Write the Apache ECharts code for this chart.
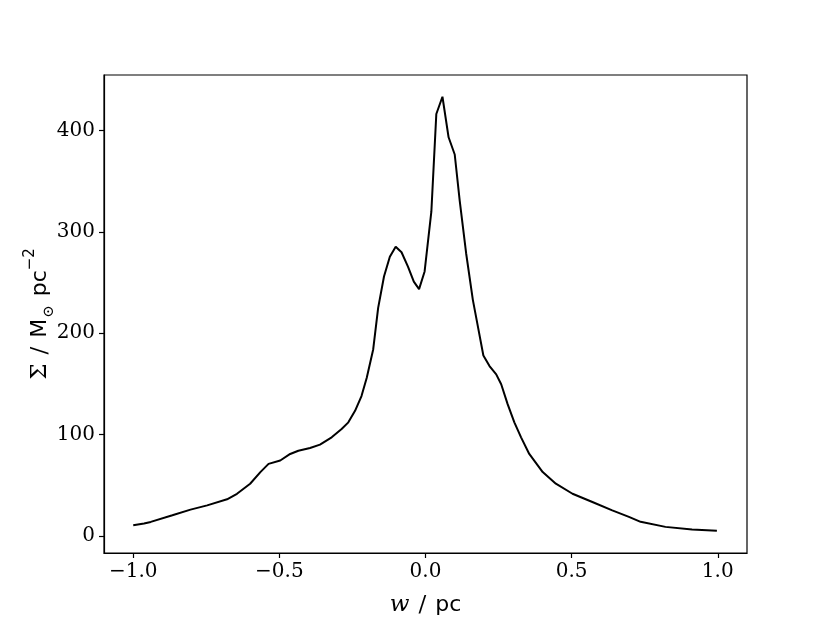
<!DOCTYPE html>
<html>
<head>
<meta charset="utf-8">
<script src="https://cdn.jsdelivr.net/npm/echarts@6/dist/echarts.min.js"></script>
<style>
  html, body { margin: 0; padding: 0; background: #fff; }
  #chart { width: 830px; height: 623px; }
</style>
</head>
<body>
<div id="chart"></div>
<script>
// surface density profile
var wValues = [
  -1.0, -0.963, -0.94, -0.866, -0.804, -0.747, -0.679, -0.645, -0.6, -0.565,
  -0.537, -0.497, -0.463, -0.435, -0.395, -0.361, -0.321, -0.287, -0.264, -0.241,
  -0.219, -0.201, -0.179, -0.162, -0.142, -0.122, -0.102, -0.082, -0.06, -0.04,
  -0.022, -0.003, 0.02, 0.037, 0.058, 0.079, 0.1, 0.117, 0.139, 0.162,
  0.179, 0.198, 0.219, 0.242, 0.259, 0.281, 0.304, 0.327, 0.355, 0.401,
  0.446, 0.503, 0.571, 0.639, 0.696, 0.736, 0.821, 0.912, 0.997
];
var sigmaValues = [
  10.4, 12.1, 13.7, 20.2, 25.8, 30, 36, 41.5, 51.4, 62.9,
  71, 74.3, 80.8, 84, 86.7, 90, 97.2, 105.4, 112, 123.4,
  138, 156, 184, 225, 256, 275.6, 285.5, 280, 265.8, 251,
  243.6, 261, 320, 416.5, 433.5, 393.5, 376.5, 331, 279, 233,
  207, 178, 167.6, 159.4, 149.6, 130, 112, 97.2, 80.8, 62.9,
  51.4, 41.5, 33.4, 25.1, 18.7, 13.8, 8.8, 6.2, 4.9
];
var xTicks = [-1.0, -0.5, 0.0, 0.5, 1.0];
var yTicks = [0, 100, 200, 300, 400];

var points = wValues.map(function (w, i) { return [w, sigmaValues[i]]; });

function fmt(v) {
  var s = v.toFixed(1);
  return s.replace('-', '\u2212');
}

var chart = echarts.init(document.getElementById('chart'));
chart.setOption({
  backgroundColor: '#fff',
  animation: false,
  grid: {
    left: 104, right: 83, top: 75, bottom: 70,
    show: true, borderColor: '#000', borderWidth: 1.2, backgroundColor: 'transparent'
  },
  xAxis: {
    type: 'value',
    min: -1.1, max: 1.1,
    interval: 0.5,
    axisLine: { show: true, onZero: false, lineStyle: { color: '#000', width: 1.2 } },
    axisTick: { show: true, inside: false, length: 5, lineStyle: { color: '#000', width: 1.2 },
      customValues: xTicks },
    splitLine: { show: false },
    axisLabel: {
      customValues: xTicks,
      formatter: function (v) { return fmt(v); },
      color: '#000', fontFamily: 'DejaVu Serif', fontSize: 20, margin: 9
    },
    name: '{i|w}{s|/}{p|pc}',
    nameLocation: 'middle',
    nameGap: 41,
    nameMoveOverlap: false,
    nameTextStyle: {
      rich: {
        i: { fontFamily: 'DejaVu Serif', fontStyle: 'italic', fontSize: 23, color: '#000' },
        s: { fontFamily: 'DejaVu Serif', fontSize: 23, color: '#000', padding: [0, 9, 0, 9] },
        p: { fontFamily: 'DejaVu Sans', fontSize: 22, color: '#000' }
      }
    }
  },
  yAxis: {
    type: 'value',
    min: -17, max: 455,
    axisLine: { show: true, onZero: false, lineStyle: { color: '#000', width: 1.2 } },
    axisTick: { show: true, inside: false, length: 5, lineStyle: { color: '#000', width: 1.2 },
      customValues: yTicks },
    splitLine: { show: false },
    axisLabel: {
      customValues: yTicks,
      color: '#000', fontFamily: 'DejaVu Serif', fontSize: 20, margin: 9
    },
    name: '{g|\u03A3}{s|/}{m|M}{o|\u2299}{p|pc}{e|\u22122}',
    nameLocation: 'middle',
    nameRotate: 90,
    nameGap: 47,
    nameMoveOverlap: false,
    nameTextStyle: {
      rich: {
        g: { fontFamily: 'DejaVu Serif', fontSize: 23, color: '#000' },
        s: { fontFamily: 'DejaVu Serif', fontSize: 23, color: '#000', padding: [0, 9, 0, 9] },
        m: { fontFamily: 'DejaVu Sans', fontSize: 22, color: '#000' },
        o: { fontFamily: 'DejaVu Serif', fontSize: 15, color: '#000', verticalAlign: 'bottom', lineHeight: 24, padding: [0, 9, 0, 1] },
        p: { fontFamily: 'DejaVu Sans', fontSize: 22, color: '#000' },
        e: { fontFamily: 'DejaVu Sans', fontSize: 15, color: '#000', verticalAlign: 'top', lineHeight: 34 }
      }
    }
  },
  series: [{
    type: 'line',
    data: points,
    showSymbol: false,
    lineStyle: { color: '#000', width: 2 },
    clip: true
  }]
});
</script>
</body>
</html>
